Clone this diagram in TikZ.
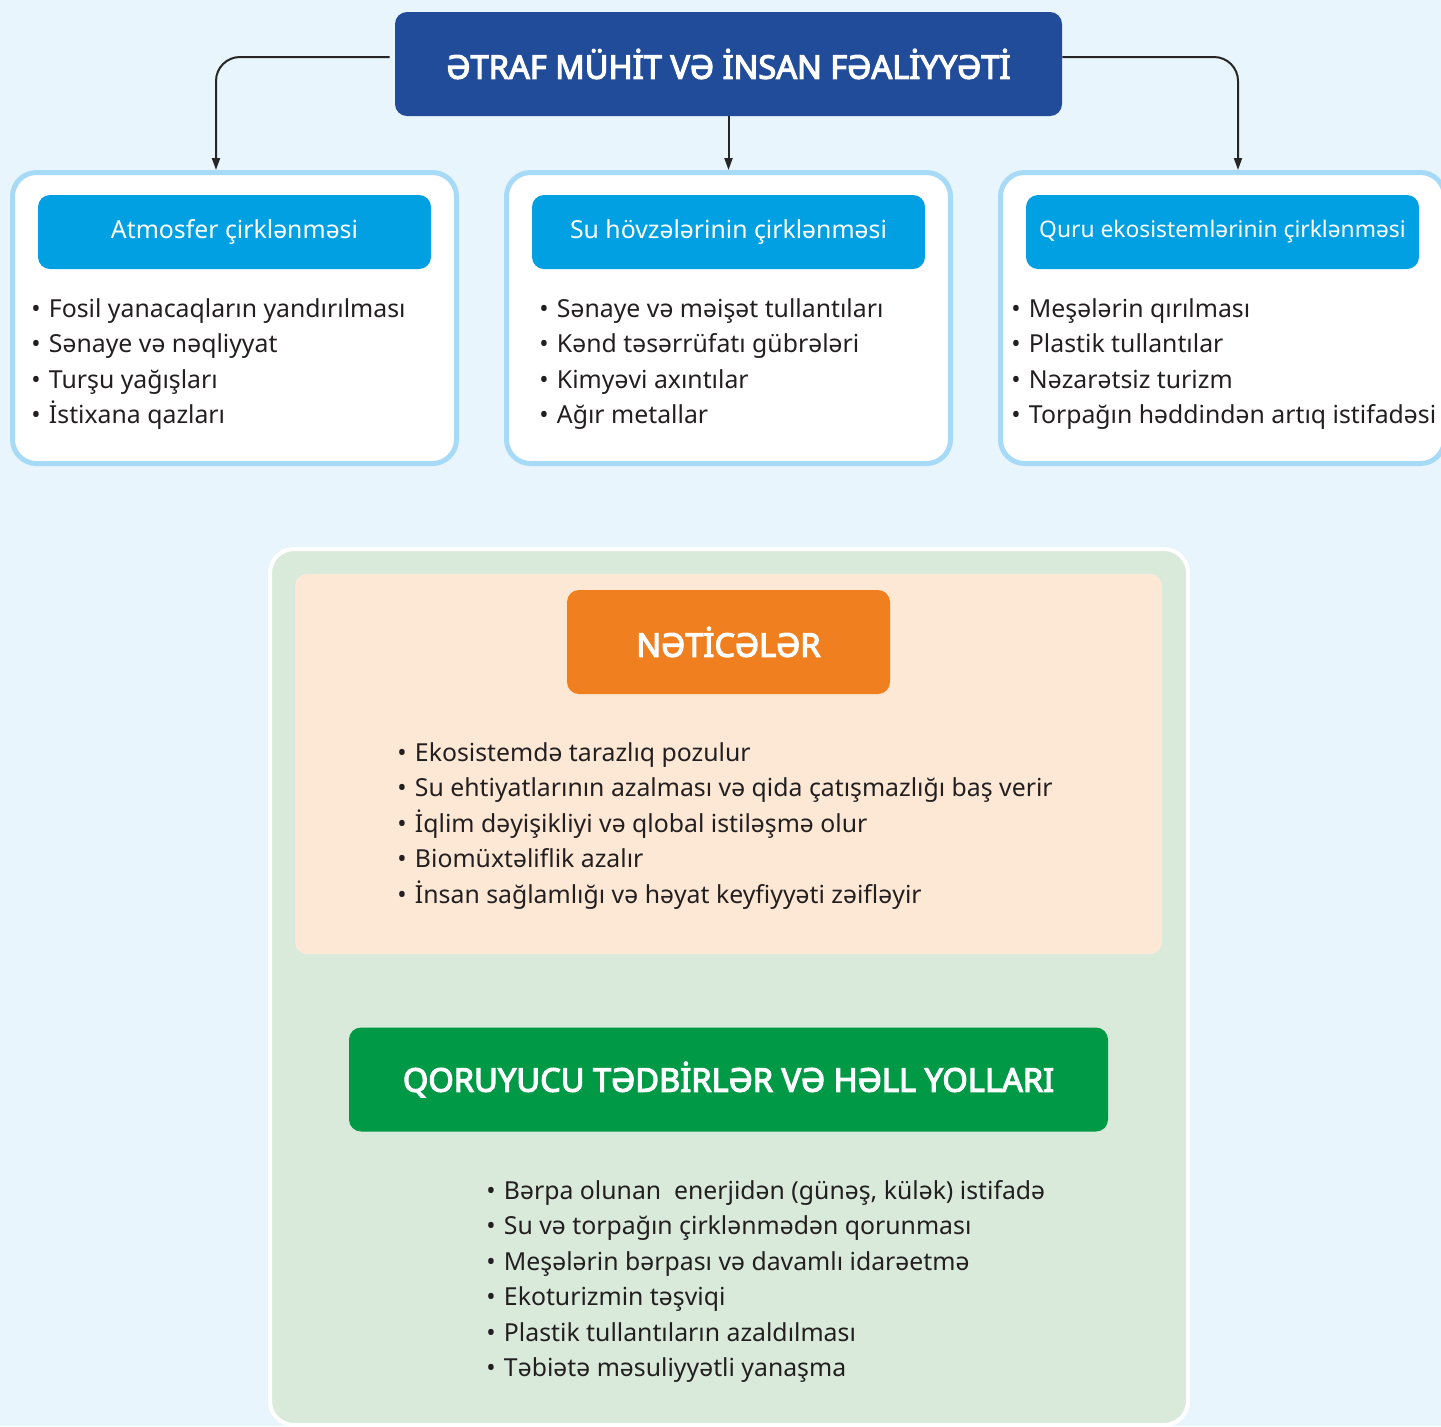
\documentclass[tikz,border=0pt]{standalone}
\usepackage{fontspec}
\setmainfont{Noto Sans}
\newfontfamily\bannerface{Noto Sans}[FakeBold=3.6]
\usetikzlibrary{arrows.meta,positioning,calc}
\definecolor{pagebg}{HTML}{E8F5FD}
\definecolor{titleblue}{HTML}{214C99}
\definecolor{headblue}{HTML}{00A0E2}
\definecolor{rimblue}{HTML}{A6DAF7}
\definecolor{panelgreen}{HTML}{D9EADB}
\definecolor{peach}{HTML}{FDE8D5}
\definecolor{resultorange}{HTML}{F0801F}
\definecolor{fixgreen}{HTML}{009A46}
\definecolor{ink}{HTML}{231F20}
\newcommand{\bodyfont}{\fontsize{12.4}{17.75}\selectfont}
\newcommand{\bul}{\makebox[8.8pt][l]{•}}

\begin{document}
\begin{tikzpicture}[x=0.5pt, y=-0.5pt,
    main/.style={fill=titleblue, rounded corners=6pt, minimum width=333.5pt, minimum height=52pt, text=white, font=\bannerface\fontsize{16.3}{18}\selectfont},
    group/.style={draw=rimblue, line width=2.5pt, fill=white, rounded corners=12pt, minimum width=222pt, minimum height=145.5pt},
    head/.style={fill=headblue, rounded corners=6pt, minimum width=196.5pt, minimum height=37pt, text=white, font=\bodyfont},
    items/.style={anchor=north west, inner sep=0pt, align=left, text=ink, font=\bodyfont},
    link/.style={draw=black!85, line width=1pt, rounded corners=12pt, -{Triangle[length=6pt, width=4pt]}},
    panel/.style={fill=panelgreen, draw=white, line width=2pt, rounded corners=12pt, minimum width=459pt, minimum height=438pt},
    result/.style={fill=peach, rounded corners=6pt, minimum width=433.5pt, minimum height=190pt},
    banner/.style={rounded corners=6pt, minimum height=52pt, text=white, font=\bannerface\fontsize{16.3}{18}\selectfont}
]
\clip (0,0) rectangle (1441,1426);
\fill[pagebg] (0,0) rectangle (1441,1426);

% top of the chart
\node[main] (env) at (728.5,64) {ƏTRAF MÜHİT VƏ İNSAN FƏALİYYƏTİ};

\node[group] (air)   at (234.5,318)  {};
\node[group] (water) at (728.5,318)  {};
\node[group] (land)  at (1222.5,318) {};

\node[head] (airhead)   at (234.5,232)  {Atmosfer çirklənməsi};
\node[head] (waterhead) at (728.5,232)  {Su hövzələrinin çirklənməsi};
\node[head, font=\fontsize{11.4}{14}\selectfont] (landhead) at (1222.5,232) {Quru ekosistemlərinin çirklənməsi};

\node[items] (airlist) at (31,298) {\bul Fosil yanacaqların yandırılması\\\bul Sənaye və nəqliyyat\\\bul Turşu yağışları\\\bul İstixana qazları};
\node[items] (waterlist) at (539,298) {\bul Sənaye və məişət tullantıları\\\bul Kənd təsərrüfatı gübrələri\\\bul Kimyəvi axıntılar\\\bul Ağır metallar};
\node[items] (landlist) at (1011,298) {\bul Meşələrin qırılması\\\bul Plastik tullantılar\\\bul Nəzarətsiz turizm\\\bul Torpağın həddindən artıq istifadəsi};

\draw[link] ($(env.west)+(-5,-7)$) -| ($(air.north)+(-18.5,0)$);
\draw[link] (env.south) -- (water.north);
\draw[link] ($(env.east)+(0,-7)$) -| ($(land.north)+(15.5,0)$);

% lower panel
\node[panel] (outcome) at (729,987) {};
\node[result] (effects) at (728.5,764) {};
\node[banner, fill=resultorange, minimum width=161.5pt] (effecthead) at (728.5,642) {NƏTİCƏLƏR};
\node[items] (effectlist) at (397,742) {\bul Ekosistemdə tarazlıq pozulur\\\bul Su ehtiyatlarının azalması və qida çatışmazlığı baş verir\\\bul İqlim dəyişikliyi və qlobal istiləşmə olur\\\bul Biomüxtəliflik azalır\\\bul İnsan sağlamlığı və həyat keyfiyyəti zəifləyir};

\node[banner, fill=fixgreen, minimum width=379.5pt] (fixhead) at (728.5,1079.5) {QORUYUCU TƏDBİRLƏR VƏ HƏLL YOLLARI};
\node[items] (fixlist) at (486,1180) {\bul Bərpa olunan \ enerjidən (günəş, külək) istifadə\\\bul Su və torpağın çirklənmədən qorunması\\\bul Meşələrin bərpası və davamlı idarəetmə\\\bul Ekoturizmin təşviqi\\\bul Plastik tullantıların azaldılması\\\bul Təbiətə məsuliyyətli yanaşma};
\end{tikzpicture}
\end{document}
